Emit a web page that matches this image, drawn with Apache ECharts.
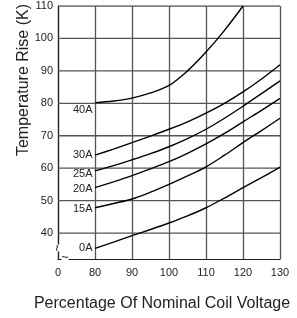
<!DOCTYPE html>
<html><head><meta charset="utf-8">
<script src="https://cdn.jsdelivr.net/npm/echarts@6/dist/echarts.min.js"></script>
<style>html,body{margin:0;padding:0;background:#fff}#c{width:297px;height:318px}</style>
</head><body><div id="c"></div>
<script>
// Percentage of nominal coil voltage (x)
const xValues = [80, 85, 90, 95, 100, 105, 110, 115, 120, 125, 130];
const x40A = [80, 85, 90, 95, 100, 105, 110, 115, 120];
// Temperature rise (K) per load current
const curveNames = ['0A', '15A', '20A', '25A', '30A', '40A'];
const s0A  = [35.3, 37.2, 39.2, 41.1, 43.1, 45.3, 47.8, 50.8, 54.0, 57.1, 60.3];
const s15A = [47.8, 49.1, 50.5, 52.6, 55.0, 57.6, 60.4, 64.0, 67.9, 71.6, 75.4];
const s20A = [54.0, 55.8, 57.7, 59.8, 62.0, 64.6, 67.5, 70.7, 74.3, 77.8, 81.5];
const s25A = [59.2, 60.8, 62.6, 64.5, 66.6, 69.1, 72.0, 75.4, 79.1, 83.0, 86.9];
const s30A = [64.0, 65.9, 67.9, 69.9, 72.0, 74.3, 77.0, 80.0, 83.5, 87.5, 91.9];
const s40A = [80.2, 80.7, 81.6, 83.2, 85.5, 90.0, 95.8, 102.5, 110.0];
// Tick labels
const xTickValues = [70, 80, 90, 100, 110, 120, 130];
const xTickLabels = ['0', '80', '90', '100', '110', '120', '130'];
const yTickValues = [40, 50, 60, 70, 80, 90, 100, 110];

const seriesX = [xValues, xValues, xValues, xValues, xValues, x40A];
const seriesY = [s0A, s15A, s20A, s25A, s30A, s40A];
const labelOffsets = [[0, 0], [0, 1.5], [0, 1], [0, 3], [0, 0], [0, 7.5]];

const chart = echarts.init(document.getElementById('c'));
const txt = '#222';
const gridCol = '#555';
const font = 'Liberation Sans, Arial, sans-serif';
const xMin = xTickValues[0], xMax = xTickValues[xTickValues.length - 1];

// horizontal grid lines, drawn through the axes' scales
const gridSeries = yTickValues.map(v => ({
  type: 'line', silent: true, symbol: 'none', z: 1,
  lineStyle: {color: gridCol, width: 1.3},
  emphasis: {disabled: true},
  data: [[xMin, v], [xMax, v]]
}));

const curveSeries = curveNames.map((name, k) => ({
  name: name,
  type: 'line',
  smooth: 0.35,
  symbol: 'circle',
  symbolSize: 1,
  showSymbol: true,
  showAllSymbol: true,
  z: 3,
  lineStyle: {color: '#000', width: 1.4},
  itemStyle: {color: 'rgba(0,0,0,0)', borderWidth: 0},
  data: seriesX[k].map((x, i) => i === 0
    ? {value: [x, seriesY[k][i]], label: {show: true, formatter: name, position: 'left', distance: 2,
        offset: labelOffsets[k], color: txt, fontSize: 11, fontFamily: font}}
    : [x, seriesY[k][i]])
}));

chart.setOption({
  animation: false,
  grid: {left: 58, right: 17, top: 6, bottom: 59},
  xAxis: {
    type: 'value', min: 70, max: 130, interval: 10,
    axisLine: {show: true, lineStyle: {color: '#222', width: 1.2}},
    axisTick: {show: true, length: 0},
    splitLine: {show: true, lineStyle: {color: gridCol, width: 1.3}},
    axisLabel: {
      color: txt, fontSize: 11, fontFamily: font, margin: 8,
      formatter: v => {
        const i = xTickValues.indexOf(v);
        return i >= 0 ? xTickLabels[i] : '';
      }
    }
  },
  yAxis: {
    type: 'value', min: 32, max: 110,
    axisLine: {show: true, lineStyle: {color: '#222', width: 1.2}},
    axisTick: {show: false},
    splitLine: {show: false},
    axisLabel: {color: txt, fontSize: 11, fontFamily: font, margin: 5, customValues: yTickValues}
  },
  graphic: [
    {type: 'text', x: 24, y: 80, rotation: Math.PI / 2,
      style: {text: 'Temperature Rise (K)', fill: txt, fontSize: 16, fontFamily: font,
        align: 'center', verticalAlign: 'middle'}},
    {type: 'text', x: 162, y: 304,
      style: {text: 'Percentage Of Nominal Coil Voltage', fill: txt, fontSize: 16, fontFamily: font,
        align: 'center', verticalAlign: 'middle'}},
    {type: 'text', x: 58, y: 248, rotation: Math.PI / 2, z: 100,
      style: {text: '~', fill: '#222', fontSize: 12, align: 'center', verticalAlign: 'middle', backgroundColor: '#fff'}},
    {type: 'text', x: 65, y: 258, z: 100,
      style: {text: '~', fill: '#222', fontSize: 12, align: 'center', verticalAlign: 'middle', backgroundColor: '#fff'}}
  ],
  series: gridSeries.concat(curveSeries)
});
</script>
</body></html>
